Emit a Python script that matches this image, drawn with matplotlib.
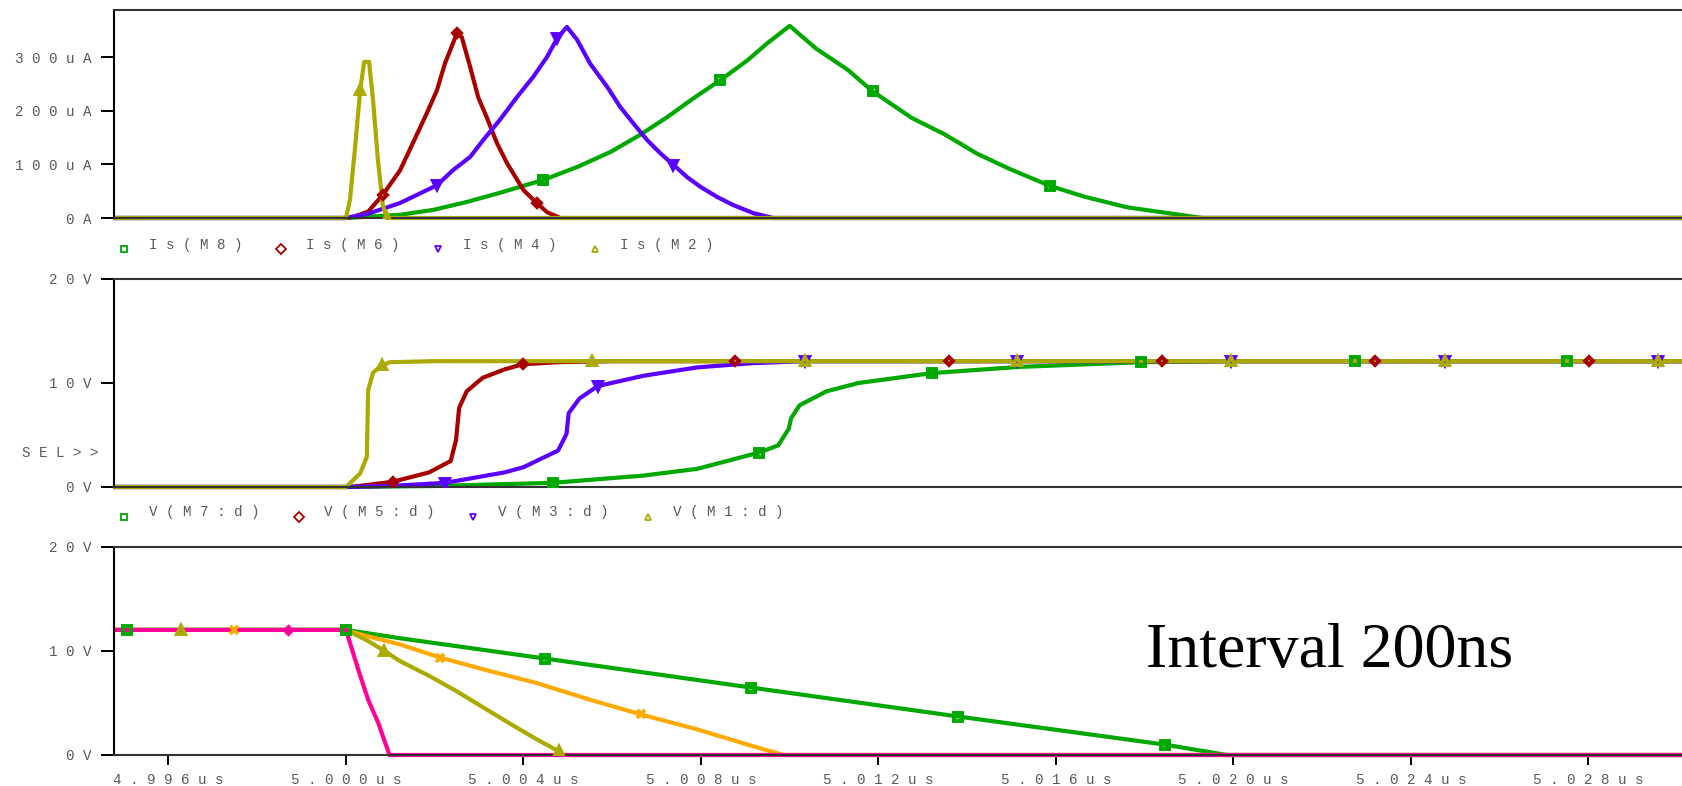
import numpy as np
import matplotlib
matplotlib.use('Agg')
import matplotlib.pyplot as plt
from matplotlib.lines import Line2D

# time is in ns after 5.000us
# ---- top panel: source currents (uA)
t_is8 = [-5.2, 0.0, 1.22, 1.96, 2.73, 3.47, 4.45, 5.21, 5.96, 6.63, 7.24, 7.83, 8.44, 9.05, 9.5, 10.0,
         10.59, 11.31, 11.87, 12.76, 13.49, 14.22, 14.94, 15.86, 16.63, 17.6, 18.45, 19.3, 30.2]
is8 = [0, 0, 6, 15, 30, 47, 71, 95, 123, 155, 188, 223, 257, 294, 326, 358,
       316, 276, 236, 186, 156, 120, 92, 60, 40, 20, 10, 0, 0]
t_is6 = [-5.2, 0.0, 0.2, 0.5, 0.83, 1.22, 1.51, 1.82, 2.05, 2.23, 2.5, 2.61, 2.8, 2.98, 3.17, 3.4,
         3.63, 4.0, 4.3, 4.53, 4.83, 30.2]
is6 = [0, 0, 3, 12, 43, 89, 140, 195, 238, 288, 344, 337, 281, 225, 188, 140, 102, 52, 28, 11, 0, 0]
t_is4 = [-5.2, 0.0, 0.5, 1.22, 2.05, 2.41, 2.8, 3.09, 3.47, 3.86, 4.22, 4.53, 4.76, 4.98, 5.21, 5.5,
         5.89, 6.18, 6.47, 6.79, 7.08, 7.38, 7.69, 7.99, 8.37, 8.73, 9.18, 9.63, 30.2]
is4 = [0, 0, 8, 28, 61, 89, 114, 145, 183, 226, 263, 300, 335, 356, 332, 288,
       244, 207, 177, 145, 121, 99, 76, 58, 39, 24, 9, 0, 0]
t_is2 = [-5.2, 0.0, 0.09, 0.2, 0.32, 0.41, 0.52, 0.61, 0.72, 0.83, 0.92, 30.2]
is2 = [0, 0, 34, 127, 238, 291, 291, 220, 108, 24, 0, 0]
mk_is8 = [4.45, 8.44, 11.87, 15.86]
mk_is6 = [0.83, 2.5, 4.3]
mk_is4 = [2.05, 4.76, 7.38]
mk_is2 = [0.32, 0.92]

# ---- middle panel: drain voltages (V)
t_v7 = [-5.2, 0.0, 2.0, 4.66, 6.71, 7.92, 9.3, 9.74, 9.98, 10.03, 10.22, 10.83, 11.55, 13.2, 15.18,
        17.92, 20.0, 22.73, 27.52, 30.2]
v7 = [0, 0, 0.1, 0.4, 1.1, 1.75, 3.3, 4.0, 5.6, 6.6, 7.85, 9.2, 10.0, 10.95, 11.55,
      12.0, 12.1, 12.1, 12.1, 12.1]
t_v5 = [-5.2, 0.0, 0.2, 1.05, 1.87, 2.36, 2.48, 2.55, 2.72, 3.08, 3.57, 3.98, 4.78, 6.0, 8.77,
        13.59, 18.40, 23.19, 28.01, 30.2]
v5 = [0, 0, 0.05, 0.5, 1.4, 2.5, 4.5, 7.6, 9.2, 10.5, 11.3, 11.8, 12.0, 12.1, 12.1,
      12.1, 12.1, 12.1, 12.1, 12.1]
t_v3 = [-5.2, 0.0, 1.0, 2.24, 3.57, 4.0, 4.29, 4.78, 4.97, 5.02, 5.26, 5.67, 6.71, 7.92, 9.13, 10.34,
        15.13, 19.95, 24.77, 29.58, 30.2]
v3 = [0, 0, 0.1, 0.4, 1.4, 1.9, 2.5, 3.5, 5.1, 7.1, 8.5, 9.7, 10.7, 11.5, 11.9, 12.1,
      12.1, 12.1, 12.1, 12.1, 12.1]
t_v1 = [-5.2, 0.0, 0.32, 0.47, 0.5, 0.61, 0.81, 0.99, 2.0, 5.55, 10.34, 15.13, 19.95, 24.77, 29.58, 30.2]
v1 = [0, 0, 1.3, 2.9, 9.3, 11.0, 11.7, 12.0, 12.1, 12.1, 12.1, 12.1, 12.1, 12.1, 12.1, 12.1]
mk_v7 = [4.66, 9.3, 13.2, 17.92, 22.73, 27.52]
mk_v5 = [1.05, 3.98, 8.77, 13.59, 18.40, 23.19, 28.01]
mk_v3 = [2.24, 5.67, 10.34, 15.13, 19.95, 24.77, 29.58]
mk_v1 = [0.81, 5.55, 10.34, 15.13, 19.95, 24.77, 29.58]

# ---- bottom panel (V)
t_g = [-5.2, -4.93, 0.0, 1.22, 4.49, 9.13, 13.80, 18.45, 19.85, 30.2]
v_g = [12, 12, 12, 11.2, 9.25, 6.47, 3.69, 1.0, 0, 0]
t_o = [-5.2, -2.53, 0.0, 0.3, 1.22, 2.12, 3.2, 4.3, 5.5, 6.64, 7.92, 9.13, 9.86, 30.2]
v_o = [12, 12, 12, 11.6, 10.6, 9.35, 8.1, 6.9, 5.3, 3.9, 2.45, 0.9, 0, 0]
t_ol = [-5.2, -3.72, 0.0, 0.47, 0.86, 1.22, 1.87, 2.5, 3.08, 3.7, 4.3, 4.8, 4.9, 30.2]
v_ol = [12, 12, 12, 11.0, 10.0, 9.0, 7.6, 6.1, 4.6, 3.0, 1.5, 0.35, 0, 0]
t_p = [-5.2, -1.3, 0.0, 0.28, 0.5, 0.73, 0.98, 30.2]
v_p = [12, 12, 12, 8.15, 5.3, 3.05, 0, 0]
mk_g = [-4.93, 0.0, 4.49, 9.13, 13.80, 18.45]
mk_o = [-2.53, 2.12, 6.64]
mk_ol = [-3.72, 0.86, 4.8]
mk_p = [-1.3]

x_ticks = [-4, 0, 4, 8, 12, 16, 20, 24, 28]
x_labels = ['4.996us', '5.000us', '5.004us', '5.008us', '5.012us', '5.016us', '5.020us', '5.024us', '5.028us']
i_ticks = [0, 100, 200, 300]
i_labels = ['0A', '100uA', '200uA', '300uA']
v_ticks = [0, 10, 20]
v_labels = ['0V', '10V', '20V']
top_names = ['Is(M8)', 'Is(M6)', 'Is(M4)', 'Is(M2)']
mid_names = ['V(M7:d)', 'V(M5:d)', 'V(M3:d)', 'V(M1:d)']

GREEN, RED, BLUE, OLIVE = '#00a800', '#a80000', '#5a00ff', '#aaaa00'
ORANGE, PINK = '#ffaa00', '#ff0099'
GRAY = '#5a5a5a'

plt.rcParams['font.family'] = ['Liberation Mono', 'DejaVu Sans Mono']

W, H = 1682, 786
fig = plt.figure(figsize=(W / 100, H / 100), dpi=100)


def sp(s):
    return ' '.join(s)


def fx(x):
    return x / W


def fy(y):
    return 1 - y / H


def panel(top, bot, ylim, ticks, labels, xlab=False):
    ax = fig.add_axes([fx(114), fy(bot), 1 - fx(114), (bot - top) / H])
    ax.set_xlim(-5.228, 30.11)
    ax.set_ylim(*ylim)
    ax.spines['right'].set_visible(False)
    for s in ['top', 'bottom']:
        ax.spines[s].set_color('#333333')
        ax.spines[s].set_linewidth(1.5)
    ax.spines['left'].set_linewidth(1.5)
    ax.set_yticks(ticks)
    ax.set_yticklabels([sp(l) for l in labels])
    ax.tick_params(axis='y', direction='out', length=9.5, width=1.4, pad=6.5,
                   labelsize=10.3, labelcolor=GRAY)
    if xlab:
        ax.set_xticks(x_ticks)
        ax.set_xticklabels([sp(l) for l in x_labels])
        ax.tick_params(axis='x', direction='out', length=7.5, width=1.4, pad=5.5,
                       labelsize=10.3, labelcolor=GRAY)
    else:
        ax.tick_params(axis='x', bottom=False, labelbottom=False)
    return ax


def trace(ax, t, v, color, marker, marks, ms=6, z=2):
    t = np.asarray(t, dtype=float)
    v = np.asarray(v, dtype=float)
    ax.plot(t, v, color=color, lw=3, zorder=z, clip_on=False, solid_joinstyle='round')
    idx = [int(np.argmin(np.abs(t - m))) for m in marks]
    ax.plot(t, v, ls='none', marker=marker, markevery=idx, ms=ms, mfc='none',
            mec=color, mew=2.8, zorder=10)


def legend(names, colors, markers, x0, dx, y_mark, y_text):
    for i, (n, c, m) in enumerate(zip(names, colors, markers)):
        x = x0 + i * dx
        fig.add_artist(Line2D([fx(x)], [fy(y_mark)], transform=fig.transFigure, ls='none',
                              marker=m, ms=5, mfc='none', mec=c, mew=1.3))
        fig.text(fx(x + 25), fy(y_text), sp(n), fontsize=10.3, color=GRAY, va='center', ha='left')


ax1 = panel(10, 218, (0, 387.6), i_ticks, i_labels)
trace(ax1, t_is8, is8, GREEN, 's', mk_is8)
trace(ax1, t_is6, is6, RED, 'D', mk_is6, ms=4.5)
trace(ax1, t_is4, is4, BLUE, 'v', mk_is4)
trace(ax1, t_is2, is2, OLIVE, '^', mk_is2)

ax2 = panel(279, 487, (0, 20), v_ticks, v_labels)
trace(ax2, t_v7, v7, GREEN, 's', mk_v7)
trace(ax2, t_v5, v5, RED, 'D', mk_v5, ms=4.5)
trace(ax2, t_v3, v3, BLUE, 'v', mk_v3)
trace(ax2, t_v1, v1, OLIVE, '^', mk_v1)

ax3 = panel(546.5, 755, (0, 20), v_ticks, v_labels, xlab=True)
trace(ax3, t_g, v_g, GREEN, 's', mk_g)
trace(ax3, t_o, v_o, ORANGE, 'x', mk_o)
trace(ax3, t_ol, v_ol, OLIVE, '^', mk_ol)
trace(ax3, t_p, v_p, PINK, 'D', mk_p, ms=3.5)

legend(top_names, [GREEN, RED, BLUE, OLIVE], ['s', 'D', 'v', '^'], 124, 157, 249, 245)
legend(mid_names, [GREEN, RED, BLUE, OLIVE], ['s', 'D', 'v', '^'], 124, 174.7, 517, 512)

fig.text(fx(98), fy(453), sp('SEL>>'), fontsize=10.3, color=GRAY, ha='right', va='center')
fig.text(fx(1146), fy(667), 'Interval 200ns', family='Liberation Serif', fontsize=46,
         va='baseline', ha='left', color='black')

fig.savefig('out.png', dpi=100)
